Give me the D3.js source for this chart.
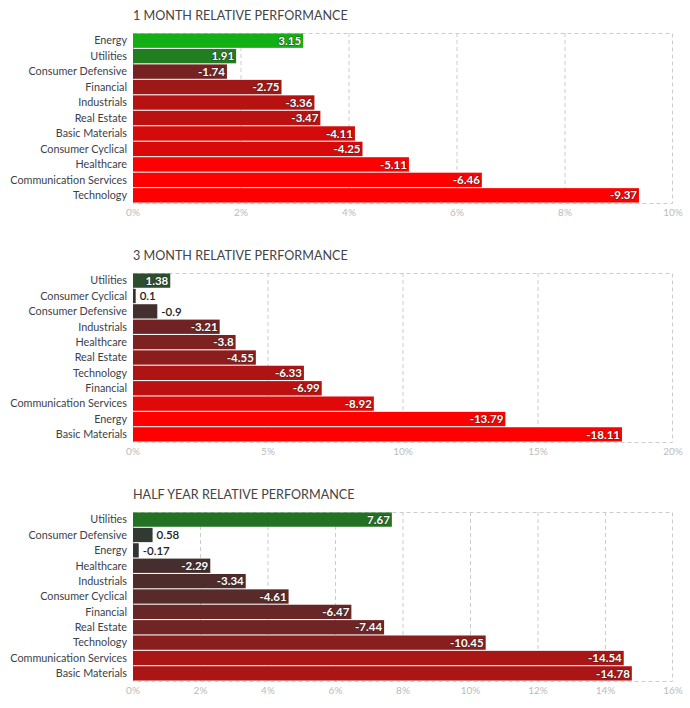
<!DOCTYPE html>
<html>
<head>
<meta charset="utf-8">
<script src="https://cdn.jsdelivr.net/npm/d3@7"></script>
<style>
   body { margin: 0; background: #fff; font-family: Lato, "Open Sans", sans-serif; }
   svg text { font-family: Lato, "Open Sans", sans-serif; }
</style>
</head>
<body>
<svg id="chart" width="690" height="708"></svg>
<script>
// 1 month
const monthSectors = ["Energy", "Utilities", "Consumer Defensive", "Financial", "Industrials", "Real Estate",
   "Basic Materials", "Consumer Cyclical", "Healthcare", "Communication Services", "Technology"];
const monthValues = [3.15, 1.91, -1.74, -2.75, -3.36, -3.47, -4.11, -4.25, -5.11, -6.46, -9.37];
const monthTicks = [0, 2, 4, 6, 8, 10];

// 3 months
const quarterSectors = ["Utilities", "Consumer Cyclical", "Consumer Defensive", "Industrials", "Healthcare",
   "Real Estate", "Technology", "Financial", "Communication Services", "Energy", "Basic Materials"];
const quarterValues = [1.38, 0.1, -0.9, -3.21, -3.8, -4.55, -6.33, -6.99, -8.92, -13.79, -18.11];
const quarterTicks = [0, 5, 10, 15, 20];

// half year
const halfSectors = ["Utilities", "Consumer Defensive", "Energy", "Healthcare", "Industrials",
   "Consumer Cyclical", "Financial", "Real Estate", "Technology", "Communication Services", "Basic Materials"];
const halfValues = [7.67, 0.58, -0.17, -2.29, -3.34, -4.61, -6.47, -7.44, -10.45, -14.54, -14.78];
const halfTicks = [0, 2, 4, 6, 8, 10, 12, 14, 16];

const svg = d3.select("#chart");
const left = 133, right = 673;

function drawPanel(opts) {
   const { title, sectors, values, ticks, top, bottom, titleY, saturate } = opts;
   const g = svg.append("g");

   const x = d3.scaleLinear()
      .domain([0, d3.max(ticks)])
      .range([left, right]);

   const y = d3.scaleBand()
      .domain(sectors)
      .range([top, bottom])
      .paddingInner(0.07)
      .paddingOuter(0.03);

   const redScale = d3.scaleLinear().domain([0, saturate]).range(["#333333", "#ff0000"]).clamp(true);
   const greenScale = d3.scaleLinear().domain([0, saturate]).range(["#333333", "#00ff00"]).clamp(true);
   const colorOf = v => v >= 0 ? greenScale(v) : redScale(-v);

   g.append("text")
      .attr("x", left)
      .attr("y", titleY)
      .attr("font-size", 12.6)
      .attr("fill", "#444444")
      .text(title);

   // grid
   g.append("g")
      .selectAll("line")
      .data(ticks.slice(1, -1))
      .join("line")
      .attr("x1", d => x(d))
      .attr("x2", d => x(d))
      .attr("y1", top)
      .attr("y2", bottom)
      .attr("stroke", "#cccccc")
      .attr("stroke-dasharray", "4,3");

   g.append("rect")
      .attr("x", left + 0.5)
      .attr("y", top + 0.5)
      .attr("width", right - left - 1)
      .attr("height", bottom - top)
      .attr("fill", "none")
      .attr("stroke", "#cccccc")
      .attr("stroke-dasharray", "4,3");

   const data = sectors.map((s, i) => ({ sector: s, value: values[i] }));

   g.append("g")
      .selectAll("rect")
      .data(data)
      .join("rect")
      .attr("x", left)
      .attr("y", d => y(d.sector))
      .attr("width", d => Math.max(1.5, x(Math.abs(d.value)) - left))
      .attr("height", y.bandwidth())
      .attr("fill", d => colorOf(d.value));

   // value labels
   g.append("g")
      .selectAll("text")
      .data(data)
      .join("text")
      .each(function (d) {
         const w = x(Math.abs(d.value)) - left;
         const inside = w > 30;
         d3.select(this)
            .attr("x", inside ? left + w - 2 : left + Math.max(w, 1.5) + 4)
            .attr("y", y(d.sector) + y.bandwidth() / 2)
            .attr("dy", "0.36em")
            .attr("text-anchor", inside ? "end" : "start")
            .attr("font-size", 11.5)
            .attr("font-weight", inside ? "bold" : "600")
            .attr("fill", inside ? "#ffffff" : "#222222")
            .attr("stroke", inside ? "#222222" : "#ffffff")
            .attr("stroke-width", inside ? 1.2 : 1.5)
            .attr("stroke-opacity", inside ? 0.6 : 1)
            .attr("paint-order", "stroke")
            .text(d.value);
      });

   // category labels
   g.append("g")
      .selectAll("text")
      .data(sectors)
      .join("text")
      .attr("x", left - 6)
      .attr("y", d => y(d) + y.bandwidth() / 2)
      .attr("dy", "0.35em")
      .attr("text-anchor", "end")
      .attr("font-size", 10.8)
      .attr("fill", "#3a3f4a")
      .text(d => d);

   // x ticks
   g.append("g")
      .selectAll("text")
      .data(ticks)
      .join("text")
      .attr("x", d => x(d))
      .attr("y", bottom + 13)
      .attr("text-anchor", "middle")
      .attr("font-size", 10)
      .attr("fill", "#bbbbbb")
      .text(d => d + "%");
}

drawPanel({ title: "1 MONTH RELATIVE PERFORMANCE", sectors: monthSectors, values: monthValues,
   ticks: monthTicks, top: 33, bottom: 203, titleY: 20, saturate: 5.2 });
drawPanel({ title: "3 MONTH RELATIVE PERFORMANCE", sectors: quarterSectors, values: quarterValues,
   ticks: quarterTicks, top: 273, bottom: 442, titleY: 260, saturate: 10.5 });
drawPanel({ title: "HALF YEAR RELATIVE PERFORMANCE", sectors: halfSectors, values: halfValues,
   ticks: halfTicks, top: 512, bottom: 681, titleY: 499, saturate: 25 });
</script>
</body>
</html>
